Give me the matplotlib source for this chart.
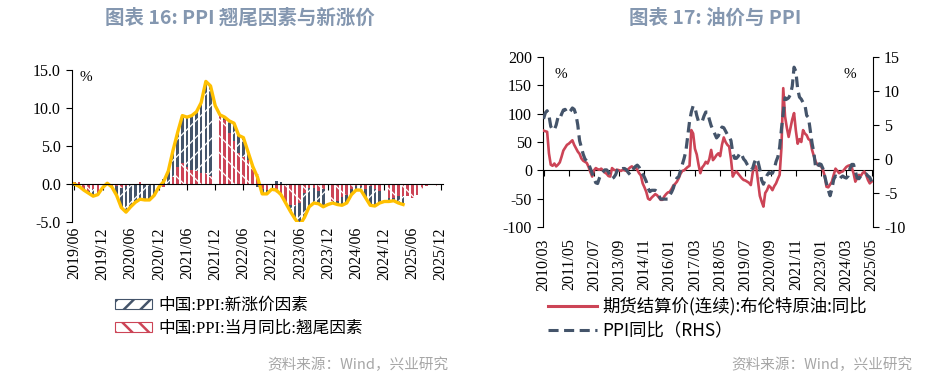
import numpy as np
import matplotlib
matplotlib.use('Agg')
import matplotlib.pyplot as plt
from matplotlib.patches import Patch
from matplotlib.lines import Line2D

plt.rcParams['font.family'] = ['Liberation Serif', 'Noto Sans CJK SC']
plt.rcParams['axes.linewidth'] = 0.8
plt.rcParams['axes.unicode_minus'] = False

NAVY = '#44546A'
RED = '#CC4456'
GOLD = '#FFC000'
TITLE_COLOR = '#8497B0'
SOURCE_COLOR = '#A6A6A6'
CJK = ['Noto Sans CJK SC', 'DejaVu Sans']

# ---- chart 16 data: monthly, 2019/06 - 2025/12 ----
months_left = [f'{y}/{m:02d}' for y in range(2019, 2026) for m in range(1, 13)][5:]

# PPI YoY (line), 2019/06 - 2025/04
ppi_line = [
    0.0, -0.3, -0.8, -1.2, -1.6, -1.4, -0.5,
    0.1, -0.4, -1.5, -3.1, -3.7, -3.0, -2.4, -2.0, -2.1, -2.1, -1.5, -0.4,
    0.3, 1.7, 4.4, 6.8, 9.0, 8.8, 9.0, 9.5, 10.7, 13.5, 12.9, 10.3,
    9.1, 8.8, 8.3, 8.0, 6.4, 6.1, 4.2, 2.3, 0.9, -1.3, -1.3, -0.7,
    -0.8, -1.4, -2.5, -3.6, -4.6, -5.4, -4.4, -3.0, -2.5, -2.6, -3.0, -2.7,
    -2.5, -2.7, -2.8, -2.5, -1.4, -0.8, -0.8, -1.8, -2.8, -2.9, -2.5, -2.3,
    -2.3, -2.2, -2.5, -2.7,
]

nan = np.nan
# tail factor (翘尾因素)
tail_factor = [
    0.3, 0.2, -0.5, -0.9, -0.6, -1.1, nan,
    0.0, -0.2, -0.3, -0.5, -0.2, -0.1, -0.1, 0.2, -0.1, -0.1, 0.0, nan,
    -0.4, 0.0, 0.9, 2.3, 2.8, 2.3, 1.9, 1.7, 1.5, 1.5, 1.0, nan,
    9.1, 8.4, 6.7, 5.6, 4.1, 3.6, 3.2, 2.4, 1.3, -0.6, -0.8, nan,
    -1.2, -1.7, -2.4, -2.7, -2.8, -2.5, -1.2, -0.5, -0.5, -0.9, -0.6, nan,
    -2.2, -2.3, -1.7, -1.5, -0.6, -0.3, -0.2, -0.6, -0.2, -0.6, -0.9, nan,
    -1.8, -1.9, -1.6, -1.6, -1.6, -1.8, -1.4, -0.7, -0.2, -0.1, -0.2, nan,
]
# new price factor (新涨价因素)
new_factor = [
    -0.3, -0.5, -0.3, -0.3, -1.0, -0.3, nan,
    0.1, -0.2, -1.2, -2.6, -3.5, -2.9, -2.3, -2.2, -2.0, -2.0, -1.5, nan,
    0.7, 1.7, 3.5, 4.5, 6.2, 6.5, 7.1, 7.8, 9.2, 12.0, 11.9, nan,
    0.0, 0.4, 1.6, 2.4, 2.3, 2.5, 1.0, -0.1, -0.4, -0.7, -0.5, nan,
    0.4, 0.3, -0.1, -0.9, -1.8, -2.9, -3.2, -2.5, -2.0, -1.7, -2.4, nan,
    -0.3, -0.4, -1.1, -1.0, -0.8, -0.5, -0.6, -1.2, -2.6, -2.3, -1.6, nan,
    -0.5, -0.3, -0.9, -1.1, nan, nan, nan, nan, nan, nan, nan, nan,
]

# ---- chart 17 data: monthly, 2010/03 - 2025/05 ----
months_right = [f'{y}/{m:02d}' for y in range(2010, 2026) for m in range(1, 13)][2:185]

brent_yoy = [
    70, 69, 68, 30, 10, 8, 12, 7, 10, 14,
    24, 35, 40, 45, 47, 50, 53, 45, 39, 33, 29, 21,
    17, 15, 13, 6, -3, -11, 0, 4, 2, 1, 3, 0,
    -4, -6, -10, -11, 4, 1, 0, 1, 0, -1, 1, 0,
    -1, 2, 5, 7, 4, 5, 1, -5, -9, -23, -30, -38,
    -50, -52, -48, -45, -42, -44, -48, -52, -52, -46, -42, -39,
    -38, -33, -27, -24, -20, -14, -6, -1, 0, 3, 6, 8,
    71, 65, 38, 28, 10, -5, 5, 9, 15, 12, 20, 36,
    18, 22, 27, 30, 25, 45, 58, 50, 45, 42, 20, -11,
    -5, -2, -6, -10, -14, -17, -18, -20, -22, -26, -5, 9,
    6, -20, -45, -55, -64, -40, -35, -27, -30, -35, -28, -23,
    -15, -8, 40, 145, 95, 75, 59, 75, 90, 101, 70, 47,
    55, 50, 71, 65, 62, 55, 53, 36, 25, 15, 10, 9,
    7, 1, -10, -29, -30, -25, -20, -8, 3, -1, -5, -3,
    -2, 2, 6, 8, 9, 5, -5, -20, -14, -8, -10, -5,
    -2, -8, -17, -23, -20,
]

ppi_yoy = [
    5.9, 6.8, 7.1, 6.4, 4.8, 4.3, 4.3, 5.0, 6.1, 5.9,
    6.6, 7.2, 7.3, 6.8, 6.8, 7.1, 7.5, 7.3, 6.5, 5.0, 2.7, 1.7,
    0.7, 0.0, -0.3, -0.7, -1.4, -2.1, -2.9, -3.5, -3.6, -2.8, -2.2, -1.9,
    -1.6, -1.6, -1.9, -2.6, -2.9, -2.7, -2.3, -1.6, -1.3, -1.5, -1.4, -1.4,
    -1.6, -2.0, -2.3, -2.0, -1.4, -1.1, -0.9, -1.2, -1.8, -2.2, -2.7, -3.3,
    -4.3, -4.8, -4.6, -4.6, -4.6, -4.8, -5.4, -5.9, -5.9, -5.9, -5.9, -5.9,
    -5.3, -4.9, -4.3, -3.4, -2.8, -2.6, -1.7, -0.8, 0.1, 1.2, 3.3, 5.5,
    6.9, 7.8, 7.6, 6.4, 5.5, 5.5, 5.5, 6.3, 6.9, 6.9, 5.8, 4.9,
    4.3, 3.7, 3.1, 3.4, 4.1, 4.7, 4.6, 4.1, 3.6, 3.3, 2.7, 0.9,
    0.1, 0.1, 0.4, 0.9, 0.6, 0.0, -0.3, -0.8, -1.2, -1.6, -1.4, -0.5,
    0.1, -0.4, -1.5, -3.1, -3.7, -3.0, -2.4, -2.0, -2.1, -2.1, -1.5, -0.4,
    0.3, 1.7, 4.4, 6.8, 9.0, 8.8, 9.0, 9.5, 10.7, 13.5, 12.9, 10.3,
    9.1, 8.8, 8.3, 8.0, 6.4, 6.1, 4.2, 2.3, 0.9, -1.3, -1.3, -0.7,
    -0.8, -1.4, -2.5, -3.6, -4.6, -5.4, -4.4, -3.0, -2.5, -2.6, -3.0, -2.7,
    -2.5, -2.7, -2.8, -2.5, -1.4, -0.8, -0.8, -1.8, -2.8, -2.9, -2.5, -2.3,
    -2.3, -2.2, -2.5, -2.7, -3.3,
]

W, H = 943, 381
fig = plt.figure(figsize=(W / 100, H / 100), dpi=100)


def px_axes(left, top, right, bottom):
    # axes rectangle given in pixel coordinates of the figure
    return fig.add_axes([left / W, 1 - bottom / H, (right - left) / W, (bottom - top) / H])


def hatched_bars(ax, xs, heights, bottoms, color, hatch, width=0.56):
    # solid bar with a thin white hatch on top, like the narrow pattern bars of the source
    ax.bar(xs, heights, bottom=bottoms, width=width, color=color, linewidth=0, zorder=2)
    plt.rcParams['hatch.linewidth'] = 0.9
    ax.bar(xs, heights, bottom=bottoms, width=width, facecolor='none', edgecolor='white',
           hatch=hatch, linewidth=0, zorder=2.1)


# ================= chart 16 =================
ax1 = px_axes(72, 70, 443, 222)
x = np.arange(len(months_left))
tail = np.array(tail_factor, dtype=float)
new = np.array(new_factor, dtype=float)
tail0 = np.nan_to_num(tail)
new_bottom = np.where(np.sign(new) == np.sign(tail0), tail0, 0.0)

hatched_bars(ax1, x, tail, 0.0, RED, '\\\\')
hatched_bars(ax1, x, new, new_bottom, NAVY, '//')
ax1.plot(x[:len(ppi_line)], ppi_line, color=GOLD, lw=2.4, solid_joinstyle='round', zorder=3)

ax1.set_xlim(-0.5, len(months_left) - 0.5)
ax1.set_ylim(-5, 15)
ax1.spines['top'].set_visible(False)
ax1.spines['right'].set_visible(False)
ax1.spines['bottom'].set_position(('data', 0))
ax1.spines['bottom'].set_zorder(4)
ax1.set_yticks([-5, 0, 5, 10, 15])
ax1.set_yticklabels([f'{v:.1f}' for v in [-5, 0, 5, 10, 15]])
ax1.set_xticks(x[::6])
ax1.set_xticklabels(months_left[::6], rotation=90)
ax1.tick_params(axis='x', length=4, width=0.8, pad=27, labelsize=11.5)
ax1.tick_params(axis='y', length=4, width=0.8, pad=4, labelsize=11.5)
ax1.text(0.02, 0.95, '%', transform=ax1.transAxes, ha='left', va='center', fontsize=11)

# ================= chart 17 =================
ax2 = px_axes(543, 57, 873, 227)
xr = np.arange(len(months_right))
ax2.plot(xr, brent_yoy, color=RED, lw=1.9, zorder=3)
ax2.set_xlim(-0.3, len(months_right) - 0.2)
ax2.set_ylim(-100, 200)
ax2.set_yticks(range(-100, 201, 50))
ax2.spines['top'].set_visible(False)
ax2.spines['right'].set_visible(False)
ax2.spines['bottom'].set_position(('data', 0))
ax2.set_xticks(xr[::14])
ax2.set_xticklabels(months_right[::14], rotation=90)
ax2.tick_params(axis='x', length=4, width=0.8, pad=45, labelsize=11.5)
ax2.tick_params(axis='y', length=4, width=0.8, pad=4, labelsize=11.5)
ax2.text(0.035, 0.9, '%', transform=ax2.transAxes, ha='left', va='center', fontsize=11)

ax3 = ax2.twinx()
ax3.plot(xr, ppi_yoy, color=NAVY, lw=2.3, dashes=(3.3, 1.8))
ax3.set_ylim(-10, 15)
ax3.set_yticks(range(-10, 16, 5))
for side in ['top', 'left', 'bottom']:
    ax3.spines[side].set_visible(False)
ax3.tick_params(axis='y', length=4, width=0.8, pad=4, labelsize=11.5)
ax3.text(0.95, 0.9, '%', transform=ax3.transAxes, ha='right', va='center', fontsize=11)

# ================= titles, legends, sources =================
fig.text(240 / W, 1 - 18 / H, '图表 16: PPI 翘尾因素与新涨价', ha='center', va='center',
         fontsize=14, fontweight='bold', color=TITLE_COLOR, family=CJK)
fig.text(715 / W, 1 - 18 / H, '图表 17: 油价与 PPI', ha='center', va='center',
         fontsize=14, fontweight='bold', color=TITLE_COLOR, family=CJK)

plt.rcParams['hatch.linewidth'] = 1.8
left_handles = [Patch(facecolor='white', edgecolor=NAVY, hatch='//', linewidth=0.8),
                Patch(facecolor='white', edgecolor=RED, hatch='\\\\', linewidth=0.8)]
fig.legend(left_handles, ['中国:PPI:新涨价因素', '中国:PPI:当月同比:翘尾因素'],
           loc='upper left', bbox_to_anchor=(115 / W, 1 - 298 / H), frameon=False,
           borderpad=0, borderaxespad=0, handlelength=2.2, handleheight=0.5,
           handletextpad=0.4, labelspacing=0.4, prop={'size': 12})

right_handles = [Line2D([], [], color=RED, lw=2.2),
                 Line2D([], [], color=NAVY, lw=2.2, dashes=(3.3, 1.8))]
fig.legend(right_handles, ['期货结算价(连续):布伦特原油:同比', 'PPI同比（RHS）'],
           loc='upper left', bbox_to_anchor=(548 / W, 1 - 297 / H), frameon=False,
           borderpad=0, borderaxespad=0, handlelength=2.8,
           handletextpad=0.3, labelspacing=0.35, prop={'size': 12.5, 'family': CJK})

for xr_px in (448, 912):
    fig.text(xr_px / W, 1 - 365 / H, '资料来源：Wind，兴业研究', ha='right', va='center',
             fontsize=10.5, color=SOURCE_COLOR, family=CJK)

fig.savefig('out.png', dpi=100)
